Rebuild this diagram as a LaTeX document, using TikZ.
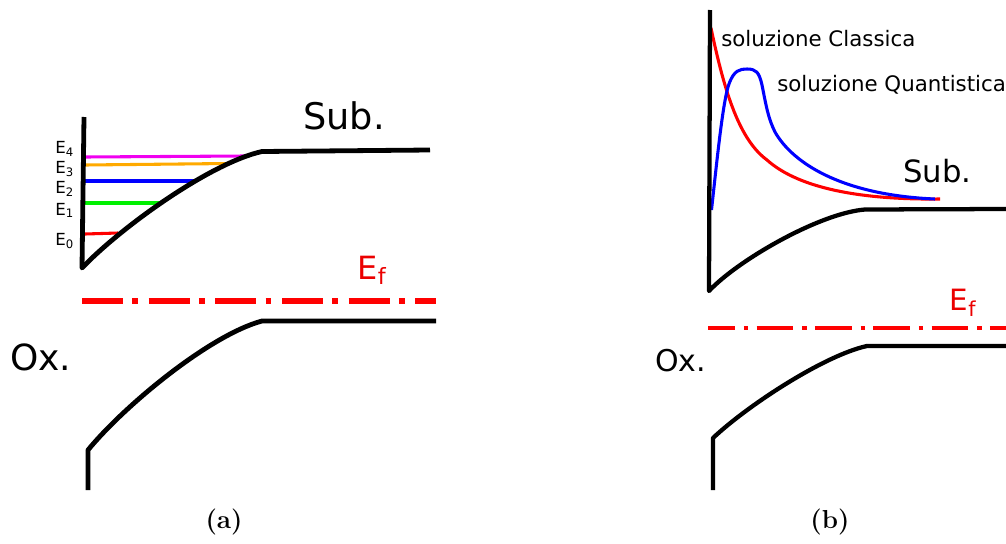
\documentclass[tikz,border=0pt]{standalone}
\usepackage{fontspec}
\newfontfamily\dv{DejaVu Sans}
\begin{document}
\begin{tikzpicture}[x=0.75pt,y=-0.75pt,
  band/.style={line width=3.6pt, line join=round, line cap=butt},
  bandb/.style={line width=3.2pt, line join=round, line cap=butt},
  lvl/.style={line width=2.3pt},
  wave/.style={line width=2.3pt, line join=round},
  fermia/.style={red, line width=4pt, dash pattern=on 30.7pt off 7pt on 4.3pt off 8pt},
  fermib/.style={red, line width=3.5pt, dash pattern=on 27.5pt off 6.75pt on 3.25pt off 6.25pt, dash phase=7.3pt},
  lbl/.style={inner sep=0pt, anchor=base west},
  subcap/.style={inner sep=0pt, font=\fontsize{19.5}{22}\selectfont\bfseries}
]
\useasboundingbox (0,0) rectangle (1006,543);
\definecolor{lorange}{RGB}{255,170,0}
\definecolor{lmag}{RGB}{240,0,240}
\definecolor{lgreen}{RGB}{0,240,0}
\definecolor{lred}{RGB}{235,0,0}

% ---------- panel (a) ----------
% energy levels
\coordinate (e4l) at (85,157); \coordinate (e4r) at (245,156);
\coordinate (e3l) at (85,165); \coordinate (e3r) at (229,163.5);
\coordinate (e2l) at (85,181); \coordinate (e2r) at (196,181);
\coordinate (e1l) at (85,203); \coordinate (e1r) at (160,203);
\coordinate (e0l) at (85,234); \coordinate (e0r) at (118,233);
\draw[lvl, lmag] (e4l) -- (e4r);
\draw[lvl, lorange] (e3l) -- (e3r);
\draw[lvl, blue] (e2l) -- (e2r);
\draw[lvl, lgreen] (e1l) -- (e1r);
\draw[lvl, red] (e0l) -- (e0r);
% axis and conduction band
\coordinate (axt) at (84,117);
\coordinate (axb) at (82,268);
\coordinate (cba) at (262,151.5);
\coordinate (cbe) at (430,150);
\draw[band] (axt) -- (axb) .. controls (120,228) and (210,163) .. (cba) -- (cbe);
% fermi level
\coordinate (fa1) at (82,301); \coordinate (fa2) at (436,301);
\draw[fermia] (fa1) -- (fa2);
% valence band
\coordinate (vba) at (88,490);
\coordinate (vbb) at (88,450);
\coordinate (vbc) at (262,321);
\coordinate (vbe) at (436,321);
\draw[band] (vba) -- (vbb) .. controls (125,405) and (210,335) .. (vbc) -- (vbe);
% labels
\node[lbl, font=\dv\fontsize{27.5}{30}\selectfont] (suba) at (303,129) {Sub.};
\node[lbl, font=\dv\fontsize{27}{30}\selectfont] (oxa) at (10,370) {Ox.};
\node[lbl, lred, font=\dv\fontsize{24}{28}\selectfont] (efa) at (357.5,279) {E\textsubscript{f}};
\node[lbl, font=\dv\fontsize{12.5}{14}\selectfont] (le4) at (55,153.3) {E\textsubscript{4}};
\node[lbl, font=\dv\fontsize{12.5}{14}\selectfont] (le3) at (55,173.3) {E\textsubscript{3}};
\node[lbl, font=\dv\fontsize{12.5}{14}\selectfont] (le2) at (55,193.3) {E\textsubscript{2}};
\node[lbl, font=\dv\fontsize{12.5}{14}\selectfont] (le1) at (55,215) {E\textsubscript{1}};
\node[lbl, font=\dv\fontsize{12.5}{14}\selectfont] (le0) at (55,245.7) {E\textsubscript{0}};
\node[subcap] (capa) at (224,522) {(a)};

% ---------- panel (b) ----------
% wave functions
\coordinate (cl0) at (711,28);
\coordinate (cl1) at (767,160);
\coordinate (cl2) at (940,199);
\draw[wave, red] (cl0) .. controls (725,95) and (740,140) .. (cl1)
  .. controls (795,185) and (850,200) .. (cl2);
\coordinate (qu0) at (711.5,210);
\coordinate (qu1) at (729,84);
\coordinate (qu2) at (747,69);
\coordinate (qu3) at (762,85);
\coordinate (qu4) at (775,132);
\coordinate (qu5) at (935,199);
\draw[wave, blue] (qu0) .. controls (717,160) and (723,100) .. (qu1)
  .. controls (734,70) and (740,69) .. (qu2)
  .. controls (756,69) and (759,72) .. (qu3)
  .. controls (766,105) and (768,118) .. (qu4)
  .. controls (792,162) and (840,195) .. (qu5);
% axis and band
\coordinate (bxt) at (710,10);
\coordinate (bxb) at (709,291);
\coordinate (bcb) at (865,209.5);
\coordinate (bce) at (1006,209);
\draw[bandb] (bxt) -- (bxb) .. controls (738,260) and (820,213) .. (bcb) -- (bce);
% fermi level
\coordinate (fb1) at (708,328); \coordinate (fb2) at (1006,328);
\draw[fermib] (fb1) -- (fb2);
% valence band
\coordinate (bva) at (713,490);
\coordinate (bvb) at (713,438);
\coordinate (bvc) at (867,346);
\coordinate (bve) at (1006,346);
\draw[bandb] (bva) -- (bvb) .. controls (748,405) and (825,355) .. (bvc) -- (bve);
% labels
\node[lbl, font=\dv\fontsize{16}{18}\selectfont] (lcl) at (721,46.7) {soluzione Classica};
\node[lbl, font=\dv\fontsize{16}{18}\selectfont] (lqu) at (777,91.7) {soluzione Quantistica};
\node[lbl, font=\dv\fontsize{23}{26}\selectfont] (subb) at (903,182) {Sub.};
\node[lbl, font=\dv\fontsize{22.5}{26}\selectfont] (oxb) at (655,371) {Ox.};
\node[lbl, lred, font=\dv\fontsize{22}{26}\selectfont] (efb) at (949.5,310) {E\textsubscript{f}};
\node[subcap] (capb) at (830,522) {(b)};
\end{tikzpicture}
\end{document}
